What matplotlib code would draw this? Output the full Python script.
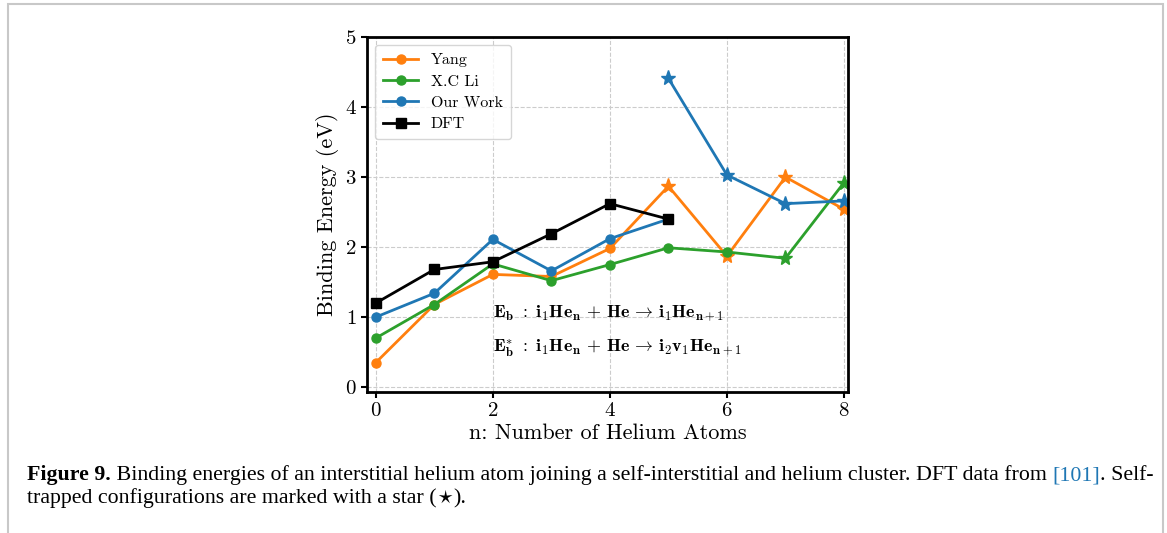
import matplotlib
matplotlib.use("Agg")
import matplotlib.pyplot as plt
from matplotlib.patches import Rectangle

# Binding energies (eV) vs number of helium atoms n
n_all = [0, 1, 2, 3, 4, 5, 6, 7, 8]
yang = [0.35, 1.18, 1.61, 1.58, 1.98, 2.87, 1.87, 3.00, 2.54]
xcli = [0.70, 1.18, 1.76, 1.52, 1.75, 1.99, 1.93, 1.84, 2.92]
ours_n = [0, 1, 2, 3, 4, 5]
ours = [1.00, 1.34, 2.11, 1.66, 2.12, 2.40]
ours_star_n = [5, 6, 7, 8]
ours_star = [4.41, 3.03, 2.62, 2.66]
dft_n = [0, 1, 2, 3, 4, 5]
dft = [1.20, 1.68, 1.79, 2.19, 2.62, 2.40]

# index where self-trapped (star) points start
yang_star_from = 5
xcli_star_from = 7

c_orange = "#ff7f0e"
c_green = "#2ca02c"
c_blue = "#1f77b4"

plt.rcParams["font.family"] = "serif"
plt.rcParams["font.serif"] = ["cmr10"]
plt.rcParams["mathtext.fontset"] = "cm"
plt.rcParams["axes.formatter.use_mathtext"] = True

fig = plt.figure(figsize=(11.67, 5.33), dpi=100)
ax = fig.add_axes([0.3145, 0.2645, 0.4122, 0.666])

lw = 2.0
ms = 6.5
sms = 11

# Yang
ax.plot(n_all, yang, color=c_orange, lw=lw, marker="o", ms=ms,
        markevery=list(range(yang_star_from)), label="Yang")
ax.plot(n_all[yang_star_from:], yang[yang_star_from:], ls="none", color=c_orange,
        marker="*", ms=sms)
# X.C Li
ax.plot(n_all, xcli, color=c_green, lw=lw, marker="o", ms=ms,
        markevery=list(range(xcli_star_from)), label="X.C Li")
ax.plot(n_all[xcli_star_from:], xcli[xcli_star_from:], ls="none", color=c_green,
        marker="*", ms=sms)
# Our work
ax.plot(ours_n, ours, color=c_blue, lw=lw, marker="o", ms=ms, label="Our Work")
ax.plot(ours_star_n, ours_star, color=c_blue, lw=lw, marker="*", ms=sms)
# DFT
ax.plot(dft_n, dft, color="black", lw=lw, marker="s", ms=ms, label="DFT")

ax.set_xlim(-0.15, 8.07)
ax.set_ylim(-0.07, 5)
ax.set_xticks([0, 2, 4, 6, 8])
ax.set_yticks([0, 1, 2, 3, 4, 5])
ax.grid(True, ls="--", color="#cccccc", lw=0.8)
for s in ax.spines.values():
    s.set_linewidth(2)
ax.tick_params(labelsize=15, width=1.5, length=4)
ax.set_xlabel("n: Number of Helium Atoms", fontsize=16, labelpad=2)
ax.set_ylabel("Binding Energy (eV)", fontsize=16, labelpad=4)

leg = ax.legend(loc="upper left", fontsize=11.5, handlelength=2.2, borderpad=0.5,
                labelspacing=0.45, framealpha=0.8)

eq1 = (r"$\mathbf{E}_{\mathbf{b}}\ :\ \mathbf{i}_{\mathbf{1}}\mathbf{He}_{\mathbf{n}}\,+\,"
       r"\mathbf{He}\,\rightarrow\,\mathbf{i}_{\mathbf{1}}\mathbf{He}_{\mathbf{n+1}}$")
eq2 = (r"$\mathbf{E}_{\mathbf{b}}^{*}\ :\ \mathbf{i}_{\mathbf{1}}\mathbf{He}_{\mathbf{n}}\,+\,"
       r"\mathbf{He}\,\rightarrow\,\mathbf{i}_{\mathbf{2}}\mathbf{v}_{\mathbf{1}}\mathbf{He}_{\mathbf{n+1}}$")
ax.text(2.0, 1.0, eq1, fontsize=13, va="baseline")
ax.text(2.0, 0.5, eq2, fontsize=13, va="baseline")

# page frame around the figure
fig.patches.append(Rectangle((8 / 1167, -0.1), (1163 - 8) / 1167, 1.1 - 4 / 533,
                             transform=fig.transFigure, fill=False,
                             edgecolor="#c8c8c8", lw=1.5))

# caption, built from runs of text
renderer = fig.canvas.get_renderer()
cap_font = ["Liberation Serif", "DejaVu Sans"]

line1 = [("Figure 9.", "bold", "black"),
         (" Binding energies of an interstitial helium atom joining a self-interstitial and helium cluster. DFT data from ", "normal", "black"),
         ("[101]", "normal", c_blue),
         (". Self-", "normal", "black")]
line2 = [("trapped configurations are marked with a star (", "normal", "black"),
         (r"$\star$", "normal", "black"),
         (").", "normal", "black")]


def put_runs(runs, x_px, y_px, size):
    x = x_px
    placed = []
    for txt, weight, color in runs:
        t = fig.text(x / 1167, 1 - y_px / 533, txt, fontsize=size,
                     family=cap_font, weight=weight, color=color, va="baseline")
        bb = t.get_window_extent(renderer)
        x = bb.x1
        placed.append(t)
    return placed, x


# fit the first caption line to the page width
probe, end = put_runs(line1, 27, 481, 12)
for t in probe:
    t.remove()
cap_size = 12 * (1150 - 27) / (end - 27)
put_runs(line1, 27, 480, cap_size)
put_runs(line2, 27, 503, cap_size)

fig.savefig("out.png", dpi=100)
